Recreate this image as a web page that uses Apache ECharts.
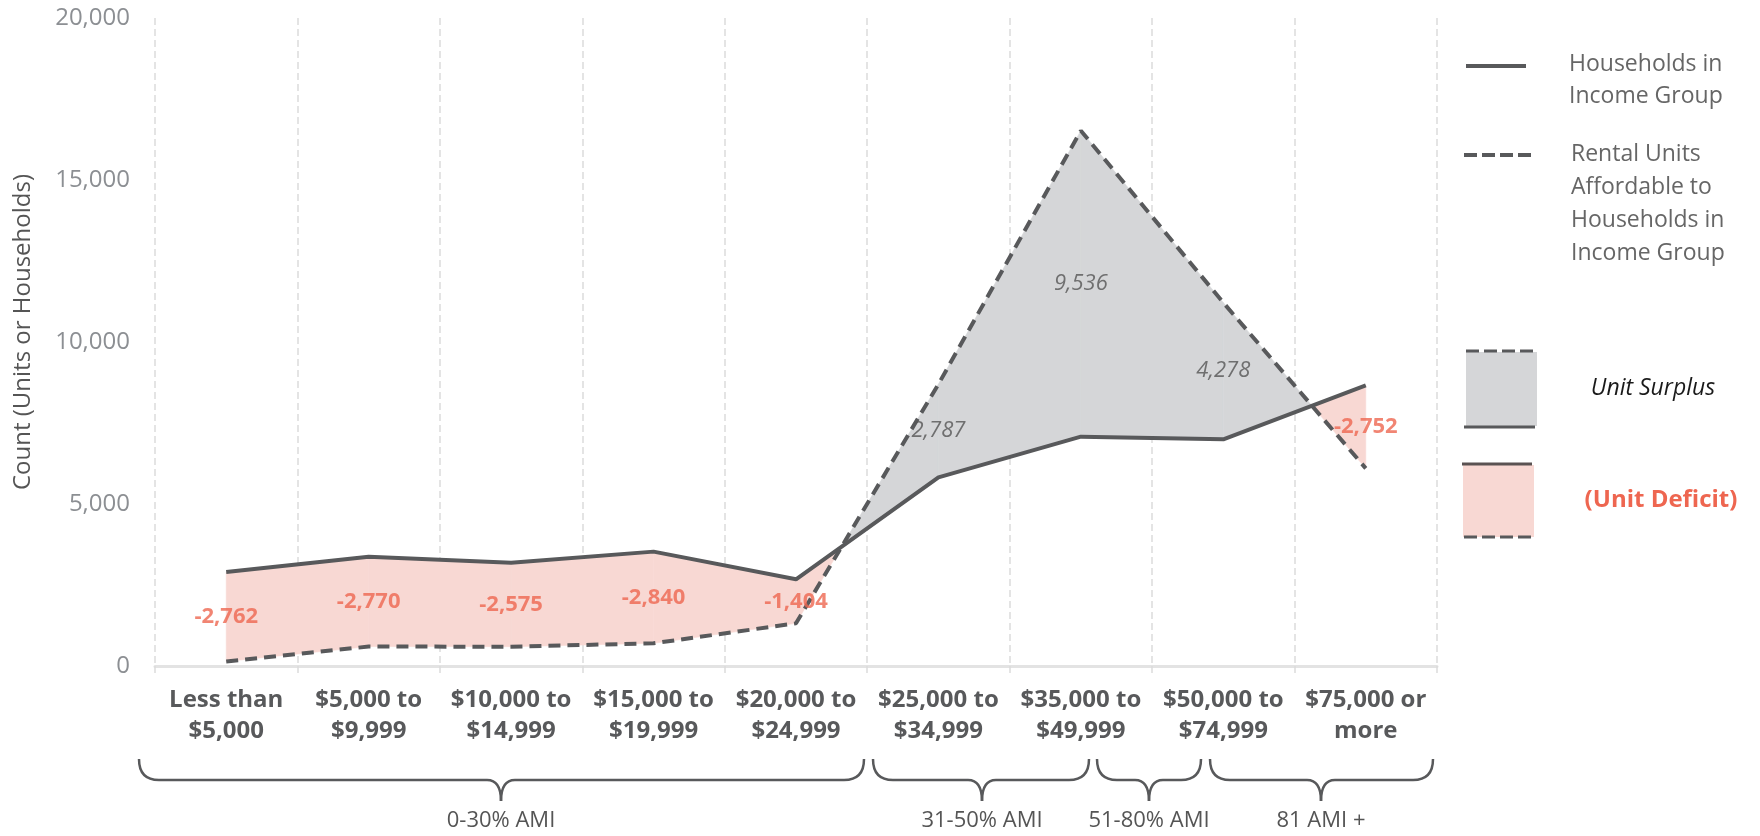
<!DOCTYPE html>
<html>
<head>
<meta charset="utf-8">
<title>Households vs Affordable Rental Units</title>
<script src="https://cdn.jsdelivr.net/npm/echarts/dist/echarts.min.js"></script>
<style>
	html, body { margin: 0; padding: 0; background: #fff; }
	#main { width: 1760px; height: 836px; }
</style>
</head>
<body>
<div id="main"></div>
<script>
// income groups (x axis)
var categories = ['Less than\n$5,000', '$5,000 to\n$9,999', '$10,000 to\n$14,999', '$15,000 to\n$19,999',
	'$20,000 to\n$24,999', '$25,000 to\n$34,999', '$35,000 to\n$49,999', '$50,000 to\n$74,999', '$75,000 or\nmore'];
// households in each income group
var households = [2900, 3375, 3190, 3530, 2675, 5823, 7078, 6996, 8663];
// rental units affordable to that group
var rentals = [140, 600, 596, 700, 1317, 8700, 16522, 11214, 6100];
// surplus / deficit printed in each group
var gapLabels = [-2762, -2770, -2575, -2840, -1404, 2787, 9536, 4278, -2752];
// AMI groups under the axis
var amiGroups = ['0-30% AMI', '31-50% AMI', '51-80% AMI', '81 AMI +'];
var yTicks = [0, 5000, 10000, 15000, 20000];

var FONT = 'Open Sans';
var LINE = '#58595b';
var GREY_FILL = '#d5d6d8';
var PINK_FILL = '#f8d8d3';
var PINK_TEXT = '#ee6650';

// 基于准备好的dom，初始化echarts图表
var myChart = echarts.init(document.getElementById('main'));

// segments between neighbouring groups, for the filled band
var segments = [];
for (var i = 0; i < categories.length - 1; i++) {
	segments.push([i, households[i], rentals[i], households[i + 1], rentals[i + 1]]);
}

function renderBand(params, api) {
	var i = api.value(0);
	var h0 = api.value(1), r0 = api.value(2), h1 = api.value(3), r1 = api.value(4);
	var d0 = r0 - h0, d1 = r1 - h1;
	function poly(pts, surplus) {
		var color = surplus ? GREY_FILL : PINK_FILL;
		return {
			type: 'polygon',
			shape: { points: pts.map(function (p) { return api.coord(p); }) },
			style: { fill: color, stroke: color, lineWidth: 0.6 }
		};
	}
	var children = [];
	if (d0 * d1 >= 0) {
		children.push(poly([[i, h0], [i + 1, h1], [i + 1, r1], [i, r0]], d0 + d1 > 0));
	} else {
		// lines cross inside the segment
		var t = d0 / (d0 - d1);
		var xc = i + t, yc = h0 + t * (h1 - h0);
		children.push(poly([[i, h0], [xc, yc], [i, r0]], d0 > 0));
		children.push(poly([[xc, yc], [i + 1, h1], [i + 1, r1]], d1 > 0));
	}
	return { type: 'group', children: children };
}

// labels sit half way between the two lines
var labelData = gapLabels.map(function (g, i) {
	var surplus = g > 0;
	return {
		value: [i, (households[i] + rentals[i]) / 2],
		label: {
			formatter: echarts.format.addCommas(g),
			color: surplus ? '#555' : PINK_TEXT,
			fontStyle: surplus ? 'italic' : 'normal',
			fontWeight: surplus ? 'normal' : 'bold'
		}
	};
});

// legend and brace graphics
var graphics = [];
graphics.push({ type: 'line', shape: { x1: 1466, y1: 66, x2: 1526, y2: 66 }, style: { stroke: LINE, lineWidth: 4 } });
graphics.push({ type: 'text', left: 1569, top: 48, style: { text: 'Households in\nIncome Group', fill: '#666', font: '23px "Open Sans"', lineHeight: 32 } });
graphics.push({ type: 'line', shape: { x1: 1464, y1: 155, x2: 1532, y2: 155 }, style: { stroke: LINE, lineWidth: 4, lineDash: [13, 5] } });
graphics.push({ type: 'text', left: 1571, top: 138, style: { text: 'Rental Units\nAffordable to\nHouseholds in\nIncome Group', fill: '#666', font: '23px "Open Sans"', lineHeight: 33 } });

graphics.push({ type: 'rect', shape: { x: 1466, y: 352, width: 71, height: 74 }, style: { fill: GREY_FILL } });
graphics.push({ type: 'line', shape: { x1: 1466, y1: 351, x2: 1535, y2: 351 }, style: { stroke: LINE, lineWidth: 3, lineDash: [13, 5] } });
graphics.push({ type: 'line', shape: { x1: 1464, y1: 427, x2: 1535, y2: 427 }, style: { stroke: LINE, lineWidth: 3 } });
graphics.push({ type: 'text', x: 1653, y: 388, style: { text: 'Unit Surplus', fill: '#1a1a1a', font: 'italic 23px "Open Sans"', align: 'center', verticalAlign: 'middle' } });

graphics.push({ type: 'rect', shape: { x: 1463, y: 465, width: 71, height: 72 }, style: { fill: PINK_FILL } });
graphics.push({ type: 'line', shape: { x1: 1462, y1: 464, x2: 1532, y2: 464 }, style: { stroke: '#5a5252', lineWidth: 3 } });
graphics.push({ type: 'line', shape: { x1: 1464, y1: 537, x2: 1532, y2: 537 }, style: { stroke: LINE, lineWidth: 3, lineDash: [13, 5] } });
graphics.push({ type: 'text', x: 1661, y: 500, style: { text: '(Unit Deficit)', fill: PINK_TEXT, font: 'bold 24px "Open Sans"', align: 'center', verticalAlign: 'middle' } });

// curly braces: [left, right, tip]
var braceSpans = [[139, 864, 501], [873, 1089, 982], [1097, 1201, 1149], [1210, 1433, 1321]];
var bTop = 759, bMid = 780, bTip = 801;
braceSpans.forEach(function (s, k) {
	var x0 = s[0], x1 = s[1], xc = s[2];
	var st = { stroke: LINE, lineWidth: 2.5, fill: null };
	graphics.push({ type: 'bezierCurve', shape: { x1: x0, y1: bTop, x2: x0 + 20, y2: bMid, cpx1: x0, cpy1: bMid }, style: st });
	graphics.push({ type: 'line', shape: { x1: x0 + 20, y1: bMid, x2: xc - 14, y2: bMid }, style: st });
	graphics.push({ type: 'bezierCurve', shape: { x1: xc - 14, y1: bMid, x2: xc, y2: bTip, cpx1: xc, cpy1: bMid }, style: st });
	graphics.push({ type: 'bezierCurve', shape: { x1: xc + 14, y1: bMid, x2: xc, y2: bTip, cpx1: xc, cpy1: bMid }, style: st });
	graphics.push({ type: 'line', shape: { x1: xc + 14, y1: bMid, x2: x1 - 20, y2: bMid }, style: st });
	graphics.push({ type: 'bezierCurve', shape: { x1: x1, y1: bTop, x2: x1 - 20, y2: bMid, cpx1: x1, cpy1: bMid }, style: st });
	graphics.push({ type: 'text', x: xc, y: 821, style: { text: amiGroups[k], fill: '#555', font: '22px "Open Sans"', align: 'center', verticalAlign: 'middle' } });
});

// 指定图表的配置项和数据
var option = {
	animation: false,
	textStyle: { fontFamily: FONT },
	grid: { left: 155, right: 323, top: 18, bottom: 170 },
	xAxis: [{
		type: 'category',
		data: categories,
		boundaryGap: true,
		axisLine: { lineStyle: { color: '#e3e3e3', width: 3 } },
		axisTick: { show: true, length: 7, lineStyle: { color: '#dcdcdc', width: 1.5 } },
		splitLine: { show: true, lineStyle: { color: '#dcdcdc', width: 1.5, type: [7, 4] } },
		axisLabel: { interval: 0, color: LINE, fontSize: 24, fontWeight: 'bold', lineHeight: 31, margin: 19, fontFamily: FONT }
	}, {
		type: 'value', min: -0.5, max: categories.length - 0.5, show: false
	}],
	yAxis: {
		type: 'value',
		min: yTicks[0],
		max: yTicks[yTicks.length - 1],
		interval: yTicks[1] - yTicks[0],
		name: 'Count (Units or Households)',
		nameLocation: 'middle',
		nameGap: 120,
		nameTextStyle: { color: '#555', fontSize: 24, fontFamily: FONT, padding: [0, 0, 0, 20] },
		axisLine: { show: false },
		axisTick: { show: false },
		splitLine: { show: false },
		axisLabel: { color: '#8c8f93', fontSize: 24, margin: 25, fontFamily: FONT }
	},
	series: [{
		type: 'custom',
		xAxisIndex: 1,
		renderItem: renderBand,
		encode: { x: 0, y: [1, 2] },
		data: segments,
		z: 1
	}, {
		name: 'Households in Income Group',
		type: 'line',
		data: households,
		symbol: 'none',
		lineStyle: { color: LINE, width: 4 },
		z: 3
	}, {
		name: 'Rental Units Affordable to Households in Income Group',
		type: 'line',
		data: rentals,
		symbol: 'none',
		lineStyle: { color: LINE, width: 4, type: [12, 7] },
		z: 3
	}, {
		type: 'scatter',
		xAxisIndex: 1,
		symbolSize: 0,
		data: labelData,
		label: { show: true, position: 'inside', fontSize: 22, fontFamily: FONT },
		z: 4
	}],
	graphic: graphics
};

// 为echarts对象加载数据
myChart.setOption(option);
</script>
</body>
</html>
